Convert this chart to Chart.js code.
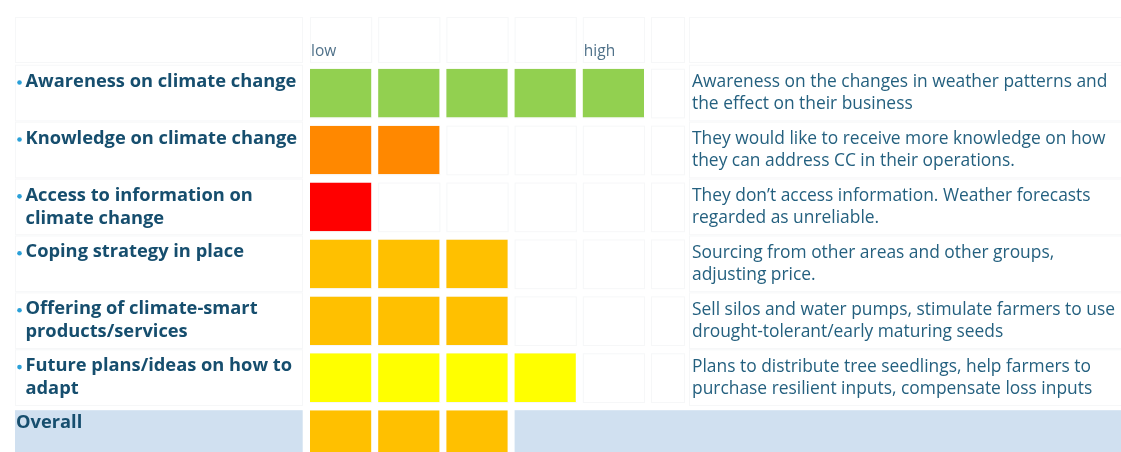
<!DOCTYPE html>
<html>
<head>
<meta charset="utf-8">
<script src="https://cdn.jsdelivr.net/npm/chart.js@4.4.1/dist/chart.umd.min.js"></script>
<style>
  html, body { margin: 0; padding: 0; background: #fff; overflow: hidden; }
  #wrap { width: 1121px; height: 463px; position: relative; }
</style>
</head>
<body>
<div id="wrap"><canvas id="scoreChart"></canvas></div>
<script>
// DATA
let rowLabels = [
    ['Awareness on climate change'],
    ['Knowledge on climate change'],
    ['Access to information on', 'climate change'],
    ['Coping strategy in place'],
    ['Offering of climate-smart', 'products/services'],
    ['Future plans/ideas on how to', 'adapt'],
    ['Overall']
];
let bulleted = [true, true, true, true, true, true, false];
let scores = [5, 2, 1, 3, 3, 4, 3];
let rowColors = ['#92d050', '#ff8800', '#ff0000', '#ffc000', '#ffc000', '#ffff00', '#ffc000'];
let descriptions = [
    ['Awareness on the changes in weather patterns and', 'the effect on their business'],
    ['They would like to receive more knowledge on how', 'they can address CC in their operations.'],
    ['They don\u2019t access information. Weather forecasts', 'regarded as unreliable.'],
    ['Sourcing from other areas and other groups,', 'adjusting price.'],
    ['Sell silos and water pumps, stimulate farmers to use', 'drought-tolerant/early maturing seeds'],
    ['Plans to distribute tree seedlings, help farmers to', 'purchase resilient inputs, compensate loss inputs'],
    ['']
];
let levels = [1, 2, 3, 4, 5];
let levelTicks = {0: 'low', 4: 'high'};

const labelFont = {family: '"Open Sans", sans-serif', size: 18.3, weight: 'bold', lineHeight: 1.26};
const descFont = {family: '"Open Sans", sans-serif', size: 17.4, lineHeight: 1.265};
const cellGap = 3.5;

// every label block is two lines so the first line sits near the top of the row
let yLabels = rowLabels.map((lines, i) => {
    let out = lines.map(l => (bulleted[i] ? '  ' : '') + l);
    if (out.length < 2) out.push('');
    return out;
});
let descLabels = descriptions.map(lines => lines.length < 2 ? lines.concat(['']) : lines);

// one dataset per level, a row gets a cell for each level it reaches
let datasets = levels.map(level => ({
    label: 'level ' + level,
    data: scores.map(s => s >= level ? 1 : null),
    backgroundColor: rowColors,
    borderColor: '#ffffff',
    borderWidth: {left: cellGap, right: cellGap, top: 0, bottom: 0},
    borderSkipped: false,
    categoryPercentage: 1,
    barPercentage: 0.855,
    clip: false
}));

// keep label overhang from shrinking the grid
function noOverhang(scale) {
    scale.paddingTop = 0;
    scale.paddingBottom = 0;
    scale.paddingLeft = 0;
    scale.paddingRight = 0;
}

const tableBackground = {
    id: 'tableBackground',
    beforeDraw(chart) {
        const {ctx, scales: {x, y}} = chart;
        const band = y.getPixelForValue(1) - y.getPixelForValue(0);
        const half = band * 0.855 / 2;
        ctx.save();
        // faint table cell outlines
        ctx.strokeStyle = '#f6f7f8';
        ctx.lineWidth = 1;
        const headerTop = 17, headerBottom = 62;
        for (let k = 0; k < 6; k++) {
            let x0 = x.getPixelForValue(k) + cellGap, x1 = x.getPixelForValue(k + 1) - cellGap;
            if (k === 5) x1 = 684;
            ctx.strokeRect(x0 + 0.5, headerTop + 0.5, x1 - x0, headerBottom - headerTop);
            for (let i = 0; i < scores.length - 1; i++) {
                const cy = y.getPixelForValue(i);
                ctx.strokeRect(x0 + 0.5, cy - half + 0.5, x1 - x0, half * 2);
            }
        }
        ctx.strokeRect(15.5, headerTop + 0.5, 287, headerBottom - headerTop);
        ctx.strokeRect(689.5, headerTop + 0.5, 440, headerBottom - headerTop);
        for (let i = 0; i < scores.length - 1; i++) {
            const cy = y.getPixelForValue(i);
            ctx.strokeRect(15.5, cy - half - 3.5, 287, half * 2 + 7);
            ctx.strokeRect(689.5, cy - half - 3.5, 440, half * 2 + 7);
        }
        // shaded summary row
        const last = scores.length - 1;
        const top = y.getPixelForValue(last) - half;
        ctx.fillStyle = '#d0e0f0';
        ctx.fillRect(15, top, 302.7 - 15, chart.height - top);
        const start = x.getPixelForValue(scores[last]) + cellGap;
        ctx.fillRect(start, top, chart.width - start, chart.height - top);
        ctx.restore();
    },
    afterDraw(chart) {
        const {ctx, scales: {y}} = chart;
        const lh = labelFont.size * labelFont.lineHeight;
        ctx.save();
        ctx.fillStyle = '#2aa0d8';
        bulleted.forEach((b, i) => {
            if (!b) return;
            const cy = y.getPixelForValue(i) - lh / 2 + 1;
            ctx.beginPath();
            ctx.arc(19.5, cy, 2.3, 0, Math.PI * 2);
            ctx.fill();
        });
        ctx.restore();
    }
};

let scoreCtx = document.getElementById('scoreChart').getContext('2d');
let scoreChart = new Chart(scoreCtx, {
    type: 'bar',
    data: {
        labels: yLabels,
        datasets: datasets
    },
    options: {
        indexAxis: 'y',
        responsive: true,
        maintainAspectRatio: false,
        animation: false,
        layout: {padding: {left: 16, top: 38, right: 0, bottom: 0}},
        plugins: {
            legend: {display: false},
            tooltip: {enabled: false}
        },
        scales: {
            x: {
                type: 'linear',
                position: 'top',
                stacked: true,
                min: 0,
                max: levels.length,
                grid: {display: false, drawTicks: false},
                border: {display: false},
                ticks: {
                    stepSize: 1,
                    autoSkip: false,
                    maxRotation: 0,
                    align: 'start',
                    labelOffset: 4.5,
                    padding: 4,
                    color: '#4f7189',
                    font: {family: '"Open Sans", sans-serif', size: 15.5},
                    callback: v => levelTicks[v] || ''
                },
                afterFit: noOverhang
            },
            y: {
                type: 'category',
                position: 'left',
                stacked: true,
                grid: {display: false, drawTicks: false},
                border: {display: false},
                ticks: {
                    crossAlign: 'far',
                    padding: 0,
                    autoSkip: false,
                    color: '#164e6e',
                    font: labelFont
                },
                afterFit(scale) { noOverhang(scale); scale.width = 290.5; }
            },
            y2: {
                type: 'category',
                position: 'right',
                labels: descLabels,
                offset: true,
                grid: {display: false, drawTicks: false},
                border: {display: false},
                ticks: {
                    crossAlign: 'near',
                    padding: 44.5,
                    autoSkip: false,
                    color: '#24607f',
                    font: descFont
                },
                afterFit(scale) { noOverhang(scale); scale.width = 473.5; }
            }
        }
    },
    plugins: [tableBackground]
});
</script>
</body>
</html>
